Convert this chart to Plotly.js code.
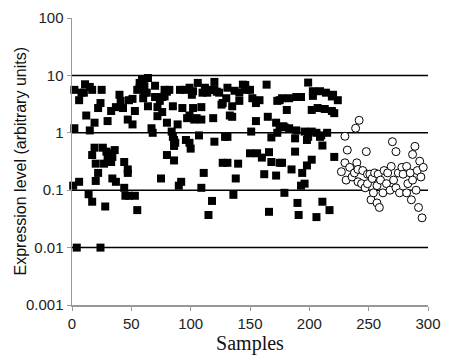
<!DOCTYPE html>
<html>
<head>
<meta charset="utf-8">
<script src="https://cdn.plot.ly/plotly-3.0.1.min.js"></script>
<style>html,body{margin:0;padding:0;background:#fff;}#chart{width:456px;height:363px;}</style>
</head>
<body>
<div id="chart"></div>
<script>
// Filled squares: samples 0-225
const squareX = [1,2,2,4,6,6,8,10,11,12,14,15,15,17,17,17,19,19,20,20,22,22,24,24,25,26,27,28,29,30,30,32,33,33,34,34,36,37,37,40,41,43,44,44,45,47,47,47,48,48,51,51,53,53,55,55,57,57,59,60,61,61,63,64,64,67,68,70,70,72,72,74,75,76,76,78,78,80,80,80,82,84,85,85,86,86,87,86,89,90,91,92,93,95,96,97,99,99,99,100,101,102,102,103,105,106,107,109,109,109,110,111,112,114,115,116,118,119,120,120,120,122,124,126,127,127,129,130,131,131,131,133,135,135,136,137,138,140,141,141,144,146,147,150,150,151,152,155,155,156,158,160,162,164,165,166,166,168,168,172,172,173,173,175,175,175,177,177,178,179,179,181,183,183,185,188,188,189,189,190,191,193,193,194,196,196,198,198,199,199,202,202,202,203,203,206,206,207,209,209,210,211,211,213,214,215,217,219,219,220,221,221,224];
const squareY = [0.12,1.2,5.6,0.01,0.14,3.7,5.0,5.0,7.0,2.0,0.085,6.3,1.1,0.063,5.6,0.41,0.55,1.5,0.145,0.29,0.2,2.7,0.01,3.3,5.6,0.55,0.29,0.052,0.47,1.6,0.36,0.44,2.4,0.31,0.16,0.38,0.5,2.8,0.14,4.6,3.6,2.7,0.11,0.31,0.08,0.2,0.23,1.7,3.7,0.08,1.4,3.9,0.08,2.4,0.045,5.6,7.4,6.1,8.5,4.0,5.0,6.5,5.0,9.0,2.9,1.2,1.0,6.6,4.2,2.8,1.95,3.6,0.16,4.2,2.3,5.6,4.3,5.2,1.5,0.41,5.6,1.05,2.9,0.85,0.75,0.33,0.67,0.59,1.4,0.12,5.6,0.14,2.7,5.6,0.75,1.8,6.1,2.0,0.67,0.53,4.6,5.3,2.7,1.7,1.8,7.4,0.9,2.8,1.7,0.11,5.0,0.2,6.1,5.0,0.037,5.6,0.065,1.8,7.7,5.6,0.7,5.2,5.0,3.1,3.3,0.3,0.85,4.0,6.1,0.85,0.3,2.0,2.9,1.9,0.083,5.4,0.16,0.29,5.0,3.6,6.9,6.8,5.6,5.6,0.44,1.05,4.0,3.3,1.6,0.44,3.7,0.37,0.19,6.9,1.9,0.46,0.042,0.83,0.31,1.5,0.18,3.6,1.0,1.25,3.7,0.3,4.0,0.3,1.3,1.25,0.09,2.5,4.0,1.2,0.23,0.8,0.47,4.2,1.1,0.06,0.037,4.2,0.12,0.2,1.05,0.13,0.75,0.27,7.5,0.85,2.5,1.05,0.34,5.3,4.4,1.0,0.034,2.7,5.3,0.85,0.9,0.6,0.063,2.6,5.0,1.0,0.045,4.3,2.4,4.6,2.2,0.38,3.7];

// Open circles: samples 227-296
const circleX = [227,230,230,231,232,234,236,238,239,240,241,241,242,244,245,247,248,249,249,251,252,253,254,255,257,257,258,259,260,262,263,265,266,268,269,270,271,273,273,275,276,278,279,282,282,283,285,286,287,287,289,290,291,292,293,294,295,296];
const circleY = [0.21,0.87,0.3,0.15,0.5,0.25,0.17,0.2,1.2,0.3,0.23,0.14,1.65,0.13,0.22,0.11,0.47,0.19,0.13,0.19,0.068,0.16,0.09,0.2,0.12,0.06,0.19,0.05,0.15,0.09,0.22,0.13,0.2,0.1,0.26,0.7,0.15,0.47,0.11,0.2,0.09,0.25,0.19,0.26,0.09,0.13,0.2,0.068,0.42,0.15,0.58,0.1,0.22,0.05,0.32,0.17,0.033,0.25];

const yTickVals = [0.001,0.01,0.1,1,10,100];
const yTickText = ['0.001','0.01','0.1','1','10','100'];
const gridVals = [0.01,0.1,1,10];
const xTickVals = [0,50,100,150,200,250,300];

const traces = [
  {x: squareX, y: squareY, type: 'scatter', mode: 'markers', cliponaxis: false,
   marker: {symbol: 'square', size: 8, color: '#000', line: {width: 0}}},
  {x: circleX, y: circleY, type: 'scatter', mode: 'markers', cliponaxis: false,
   marker: {symbol: 'circle', size: 8, color: '#fff', line: {width: 1, color: '#000'}}}
];

const shapes = gridVals.map(v => ({type: 'line', xref: 'paper', x0: 0, x1: 1, yref: 'y', y0: v, y1: v,
  line: {color: '#000', width: 1.5}, layer: 'below'}));

const plotW = 456 - 72 - 28;

const layout = {
  width: 456, height: 363,
  margin: {l: 72, r: 28, t: 18, b: 58},
  paper_bgcolor: '#fff', plot_bgcolor: '#fff',
  showlegend: false,
  shapes: shapes,
  font: {family: 'Arial, Liberation Sans, sans-serif', color: '#222'},
  annotations: [{
    text: 'Expression level (arbitrary units)', textangle: -90, showarrow: false,
    xref: 'paper', yref: 'paper', x: -(72 - 20) / plotW, y: 0.5, xanchor: 'center', yanchor: 'middle',
    font: {family: 'Arial, Liberation Sans, sans-serif', size: 16, color: '#111'}
  }],
  xaxis: {range: [0, 300], tickvals: xTickVals, showgrid: false, zeroline: false,
    showline: true, linecolor: '#999', linewidth: 1.5, ticks: 'outside', ticklen: 4, tickcolor: '#999',
    tickfont: {size: 15, color: '#222'},
    title: {text: 'Samples', font: {family: 'Liberation Serif, Times New Roman, serif', size: 20, color: '#111'}, standoff: 4}},
  yaxis: {type: 'log', range: [-3, 2], tickvals: yTickVals, ticktext: yTickText, showgrid: false, zeroline: false,
    showline: true, linecolor: '#999', linewidth: 1.5, ticks: 'outside', ticklen: 4, tickcolor: '#999',
    tickfont: {size: 15, color: '#222'}}
};

Plotly.newPlot('chart', traces, layout, {displayModeBar: false, staticPlot: true});
</script>
</body>
</html>
